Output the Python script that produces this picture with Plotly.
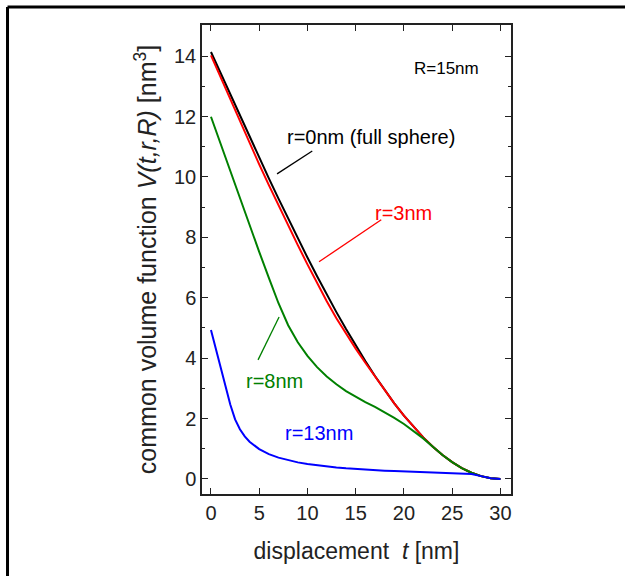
import plotly.graph_objects as go

# displacement t [nm]
t_nm = [0, 0.5, 1, 1.5, 2, 2.5, 3, 3.5, 4, 5, 6, 7, 8, 9, 10, 11, 12, 13, 14, 15,
        16, 17, 18, 19, 20, 21, 22, 23, 24, 25, 26, 27, 28, 29, 30]
# common volume function V(t,r,R) [nm^3] (x1000), R = 15 nm
v_r0 = [14.137, 13.784, 13.431, 13.078, 12.726, 12.374, 12.024, 11.674, 11.326, 10.636,
        9.953, 9.279, 8.616, 7.966, 7.33, 6.71, 6.107, 5.523, 4.96, 4.418, 3.9, 3.407,
        2.941, 2.503, 2.094, 1.718, 1.374, 1.065, 0.792, 0.556, 0.36, 0.205, 0.092, 0.023, 0.0]
v_r3 = [14.024, 13.657, 13.289, 12.923, 12.558, 12.194, 11.833, 11.474, 11.117, 10.414,
        9.726, 9.053, 8.39, 7.74, 7.104, 6.484, 5.881, 5.317, 4.799, 4.313, 3.847, 3.392,
        2.941, 2.503, 2.094, 1.718, 1.374, 1.065, 0.792, 0.556, 0.36, 0.205, 0.092, 0.023, 0.0]
v_r8 = [11.993, 11.539, 11.085, 10.632, 10.181, 9.731, 9.283, 8.837, 8.394, 7.518, 6.658,
        5.817, 5.09, 4.524, 4.072, 3.702, 3.393, 3.132, 2.908, 2.714, 2.545, 2.382, 2.21,
        2.023, 1.818, 1.592, 1.342, 1.065, 0.792, 0.556, 0.36, 0.205, 0.092, 0.023, 0.0]
v_r13 = [4.934, 4.316, 3.697, 3.079, 2.463, 1.97, 1.642, 1.407, 1.232, 0.985, 0.821, 0.704,
         0.616, 0.547, 0.493, 0.448, 0.411, 0.379, 0.352, 0.328, 0.308, 0.29, 0.274, 0.259,
         0.246, 0.235, 0.224, 0.214, 0.205, 0.197, 0.189, 0.162, 0.092, 0.023, 0.0]

x_ticks = [0, 5, 10, 15, 20, 25, 30]
y_ticks = [0, 2, 4, 6, 8, 10, 12, 14]

FONT = "Liberation Sans, Arial, sans-serif"
series = [
    ("r=0nm (full sphere)", v_r0, "#000000"),
    ("r=3nm", v_r3, "#ff0000"),
    ("r=8nm", v_r8, "#008000"),
    ("r=13nm", v_r13, "#0000ff"),
]

fig = go.Figure()
for name, vals, col in series:
    fig.add_trace(go.Scatter(x=t_nm, y=vals, mode="lines", name=name,
                             line=dict(color=col, width=2), showlegend=False))

# labels with leader lines
labels = [
    dict(text="R=15nm", x=24.4, y=13.6, color="#000000", size=17),
    dict(text="r=0nm (full sphere)", x=16.6, y=11.32, color="#000000", size=20),
    dict(text="r=3nm", x=20.0, y=8.81, color="#ff0000", size=20),
    dict(text="r=8nm", x=6.55, y=3.25, color="#008000", size=20),
    dict(text="r=13nm", x=11.2, y=1.52, color="#0000ff", size=20),
]
for lb in labels:
    fig.add_annotation(x=lb["x"], y=lb["y"], text=lb["text"], showarrow=False,
                       font=dict(family=FONT, size=lb["size"], color=lb["color"]),
                       xanchor="center", yanchor="middle")

leaders = [
    ((6.85, 10.10), (10.5, 10.86), "#000000"),
    ((11.2, 7.19), (17.65, 8.58), "#ff0000"),
    ((4.88, 3.94), (7.06, 5.36), "#008000"),
]
for (x0, y0), (x1, y1), col in leaders:
    fig.add_shape(type="line", x0=x0, y0=y0, x1=x1, y1=y1, xref="x", yref="y",
                  line=dict(color=col, width=1.3))

# outer image border (left and top only visible)
fig.add_shape(type="line", xref="paper", yref="paper", x0=-0.6294, y0=-0.3, x1=-0.6294, y1=1.0384,
              line=dict(color="#000000", width=3))
fig.add_shape(type="line", xref="paper", yref="paper", x0=-0.6294, y0=1.0384, x1=1.5, y1=1.0384,
              line=dict(color="#000000", width=3))

axis_common = dict(showgrid=False, zeroline=False, showline=True, linecolor="#222222",
                   linewidth=1.5, mirror="ticks", ticks="inside", ticklen=6, tickwidth=1.3,
                   tickcolor="#222222",
                   tickfont=dict(family=FONT, size=20, color="#222222"))

fig.update_xaxes(range=[-0.93, 31.1], tickmode="array", tickvals=x_ticks,
                 ticktext=[str(v) for v in x_ticks],
                 title=dict(text="displacement\u00a0\u00a0<i>t</i> [nm]",
                            font=dict(family=FONT, size=23, color="#222222"), standoff=20),
                 **axis_common)
fig.update_yaxes(range=[-0.5, 15.03], tickmode="array", tickvals=y_ticks,
                 ticktext=[str(v) for v in y_ticks],
                 minor=dict(ticks="inside", ticklen=3, tickwidth=1.2, tickcolor="#222222", dtick=1),
                 title=dict(text="common volume function <i>V(t,r,R)</i> [nm<sup>3</sup>]",
                            font=dict(family=FONT, size=25, color="#222222"), standoff=10),
                 **axis_common)

fig.update_layout(width=625, height=576, margin=dict(l=202, r=114, t=25, b=82),
                  plot_bgcolor="white", paper_bgcolor="white")

fig.write_html("out.html", config={"displayModeBar": False},
               post_script="document.body.style.margin='0';document.body.style.overflow='hidden';")
